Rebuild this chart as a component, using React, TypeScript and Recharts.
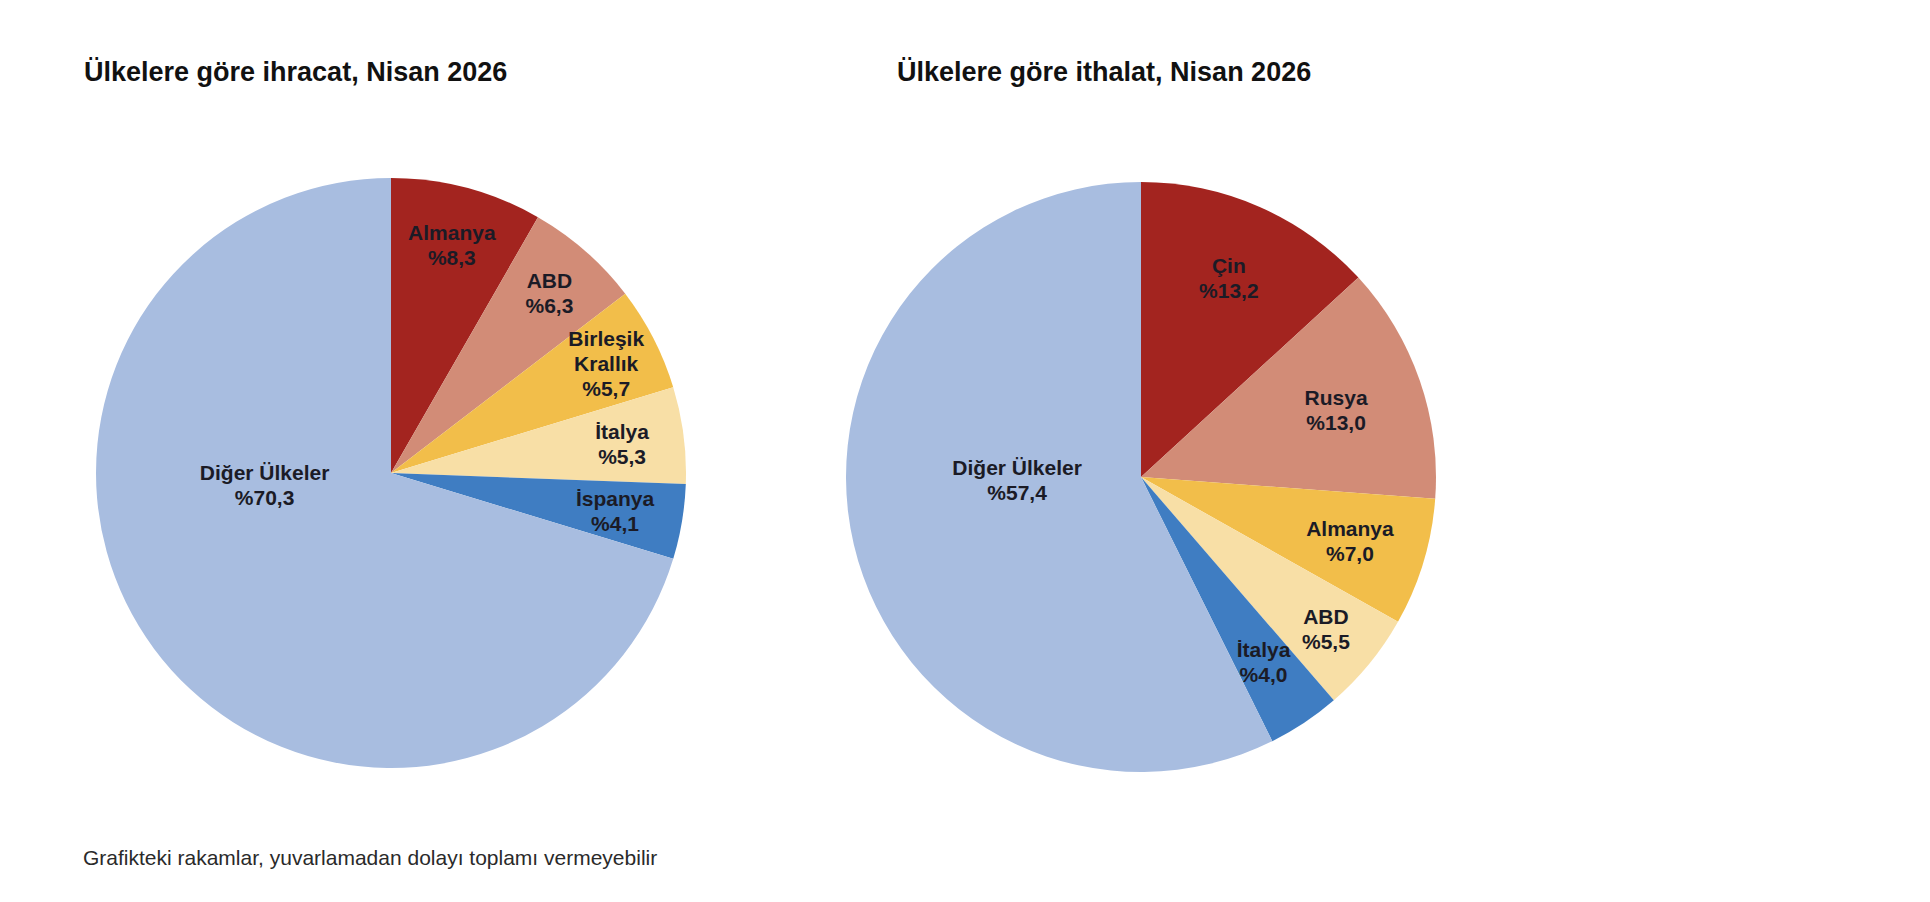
import React from 'react'
import { PieChart, Pie, Cell } from 'recharts'

// İhracat (export) shares, clockwise from 12 o'clock
const exportCountries = ['Almanya', 'ABD', 'Birleşik\nKrallık', 'İtalya', 'İspanya', 'Diğer Ülkeler']
const exportShares = [8.3, 6.3, 5.7, 5.3, 4.1, 70.3]

// İthalat (import) shares, clockwise from 12 o'clock
const importCountries = ['Çin', 'Rusya', 'Almanya', 'ABD', 'İtalya', 'Diğer Ülkeler']
const importShares = [13.2, 13.0, 7.0, 5.5, 4.0, 57.4]

const exportColors = ['#a3241f', '#d28c77', '#f2be4a', '#f8dfa6', '#3f7dc2', '#a8bde0']
const importColors = ['#a3241f', '#d28c77', '#f2be4a', '#f8dfa6', '#3f7dc2', '#a8bde0']

// label distance from the centre (fraction of radius); angle override for the big slice
const exportLabelR = [0.8, 0.815, 0.82, 0.79, 0.77, 0.43]
const importLabelR = [0.74, 0.7, 0.74, 0.81, 0.75, 0.42]
const exportLabelAngle: (number | null)[] = [null, null, null, null, null, 185]
const importLabelAngle: (number | null)[] = [null, null, null, null, null, 181]

const FONT = '"Liberation Sans", Arial, Helvetica, sans-serif'
const RAD = Math.PI / 180

const toRows = (names: string[], values: number[]) =>
  names.map((name, i) => ({ name, value: values[i] }))

const makeLabel =
  (radii: number[], angles: (number | null)[]) =>
  (props: any) => {
    const { cx, cy, midAngle, outerRadius, index, name, value } = props
    const ang = angles[index] ?? midAngle
    const r = outerRadius * radii[index]
    const x = cx + r * Math.cos(-ang * RAD)
    const y = cy + r * Math.sin(-ang * RAD)
    const lines = [...String(name).split('\n'), `%${Number(value).toFixed(1).replace('.', ',')}`]
    const lh = 25
    return (
      <text
        x={x}
        y={y}
        textAnchor="middle"
        dominantBaseline="central"
        fontFamily={FONT}
        fontSize={21}
        fontWeight={700}
        fill="#1b1b26"
      >
        {lines.map((l, i) => (
          <tspan key={i} x={x} y={y + (i - (lines.length - 1) / 2) * lh}>
            {l}
          </tspan>
        ))}
      </text>
    )
  }

export default function App() {
  const exportData = toRows(exportCountries, exportShares)
  const importData = toRows(importCountries, importShares)

  return (
    <div style={styles.page}>
      <div style={{ ...styles.title, left: 84 }}>Ülkelere göre ihracat, Nisan 2026</div>
      <div style={{ ...styles.title, left: 897 }}>Ülkelere göre ithalat, Nisan 2026</div>

      <div style={styles.chart}>
        <PieChart width={1930} height={902}>
          <Pie
            data={exportData}
            dataKey="value"
            nameKey="name"
            cx={386}
            cy={468}
            outerRadius={295}
            startAngle={90}
            endAngle={-270}
            stroke="none"
            labelLine={false}
            label={makeLabel(exportLabelR, exportLabelAngle)}
            isAnimationActive={false}
          >
            {exportData.map((d, i) => (
              <Cell key={d.name} fill={exportColors[i]} />
            ))}
          </Pie>
          <Pie
            data={importData}
            dataKey="value"
            nameKey="name"
            cx={1136}
            cy={472}
            outerRadius={295}
            startAngle={90}
            endAngle={-270}
            stroke="none"
            labelLine={false}
            label={makeLabel(importLabelR, importLabelAngle)}
            isAnimationActive={false}
          >
            {importData.map((d, i) => (
              <Cell key={d.name} fill={importColors[i]} />
            ))}
          </Pie>
        </PieChart>
      </div>

      <div style={styles.note}>Grafikteki rakamlar, yuvarlamadan dolayı toplamı vermeyebilir</div>
    </div>
  )
}

const styles: Record<string, React.CSSProperties> = {
  page: {
    position: 'absolute',
    left: 0,
    top: 0,
    width: 1930,
    height: 902,
    background: '#ffffff',
    fontFamily: FONT,
  },
  chart: {
    position: 'absolute',
    left: 0,
    top: 0,
  },
  title: {
    position: 'absolute',
    top: 59,
    fontSize: 27,
    lineHeight: '27px',
    fontWeight: 700,
    color: '#111111',
    whiteSpace: 'nowrap',
  },
  note: {
    position: 'absolute',
    left: 83,
    top: 847,
    fontSize: 21,
    lineHeight: '21px',
    color: '#2a2a2a',
    whiteSpace: 'nowrap',
  },
}
